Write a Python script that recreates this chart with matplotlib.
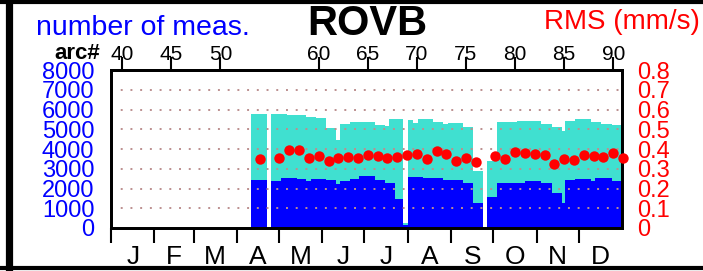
import matplotlib
matplotlib.use('Agg')
import matplotlib.pyplot as plt
from matplotlib.lines import Line2D
import numpy as np

plt.rcParams['font.family'] = ['Liberation Sans', 'DejaVu Sans']

station = 'ROVB'
months = ['J', 'F', 'M', 'A', 'M', 'J', 'J', 'A', 'S', 'O', 'N', 'D']
month_start = [0, 31, 59, 90, 120, 151, 181, 212, 243, 273, 304, 334, 365]
arc_ticks = [40, 45, 50, 60, 65, 70, 75, 80, 85, 90]

# number of measurements, step segments (start day of year)
seg_day = [100.0, 111.4, 114.5, 121.4, 125.9, 132.6, 139.3, 142.6, 146.4, 153.6,
           160.5, 163.6, 170.7, 177.1, 188.6, 195.7, 198.6, 202.9, 208.8, 211.9,
           215.7, 219.5, 223.1, 230.2, 237.4, 240.9, 251.6, 258.8, 265.9, 268.6,
           275.5, 289.8, 295.7, 307.1, 314.8, 321.8, 324.3, 331.4, 342.9, 345.7,
           350.0, 357.6]
seg_total = [5770, 0, 5770, 5750, 5710, 5710, 5600, 5600, 5545, 5070,
             4480, 5280, 5350, 5350, 5215, 5165, 5500, 5500, 250, 5470,
             5335, 5500, 5500, 5370, 5265, 5300, 5130, 2900, 0, 3390,
             5350, 5400, 5400, 5250, 5130, 4930, 5425, 5535, 5350, 5350,
             5265, 5200]
seg_low = [2430, 0, 2380, 2545, 2545, 2480, 2380, 2495, 2495, 2415,
           2230, 2380, 2465, 2630, 2430, 2260, 2260, 1455, 170, 2565,
           2565, 2565, 2515, 2515, 2430, 2430, 2295, 1280, 0, 1550,
           2295, 2295, 2380, 2260, 1755, 1250, 2430, 2495, 2365, 2515,
           2515, 2400]
year_end = 365

# RMS per arc
arc_no = [54, 56, 57, 58, 59, 60, 61, 62, 63, 64, 65, 66, 67, 68, 69, 70, 71, 72,
          73, 74, 75, 76, 78, 79, 80, 81, 82, 83, 84, 85, 86, 87, 88, 89, 90, 91]
rms = [0.348, 0.353, 0.396, 0.395, 0.356, 0.366, 0.341, 0.356, 0.361, 0.353,
       0.370, 0.365, 0.354, 0.358, 0.368, 0.373, 0.348, 0.391, 0.377, 0.339,
       0.355, 0.335, 0.366, 0.351, 0.386, 0.380, 0.373, 0.370, 0.324, 0.348,
       0.344, 0.372, 0.365, 0.357, 0.378, 0.353]


def arc_to_day(a):
    return 8.07 + (np.asarray(a, dtype=float) - 40) * 7.014


def day_to_arc(d):
    return 40 + (np.asarray(d, dtype=float) - 8.07) / 7.014


fig = plt.figure(figsize=(7.03, 2.71), dpi=100)
ax = fig.add_axes([111 / 703, 43 / 271, 511 / 703, 158 / 271])

# bars as steps
x = seg_day + [year_end]
ax.fill_between(x, 0, seg_total + [seg_total[-1]], step='post',
                color='#40e0d0', lw=0, zorder=1)
ax.fill_between(x, 0, seg_low + [seg_low[-1]], step='post',
                color='#0000ff', lw=0, zorder=1)

# dotted grid
for v in range(1000, 8000, 1000):
    ax.axhline(v, color='#bc8f8f', lw=1.4, ls=(0, (1, 4)), zorder=2)

ax.set_xlim(0, 365)
ax.set_ylim(0, 8000)
ax.set_yticks(range(0, 8001, 1000))
ax.tick_params(axis='y', length=0, pad=12, labelcolor='blue', labelsize=17)

# months along bottom
ax.set_xticks(month_start[:-1])
ax.set_xticklabels([])
ax.tick_params(axis='x', which='major', length=11, width=1.5, direction='out')
mid = [(month_start[i] + month_start[i + 1]) / 2 for i in range(12)]
ax.set_xticks(mid, minor=True)
ax.set_xticklabels(months, minor=True)
ax.tick_params(axis='x', which='minor', length=0, pad=12, labelsize=19)
ax.tick_params(top=False)

for s in ax.spines.values():
    s.set_linewidth(2)

# arc numbers along top
sec = ax.secondary_xaxis('top', functions=(day_to_arc, arc_to_day))
sec.set_xticks(arc_ticks)
sec.tick_params(length=9.5, width=1.5, pad=-5.5, labelsize=15)
sec.spines['top'].set_linewidth(2)

# RMS on right axis
ax2 = ax.twinx()
ax2.plot(arc_to_day(arc_no), rms, 'o', color='red', ms=7.5, mew=0,
         clip_on=False, zorder=3)
ax2.set_ylim(0, 0.8)
ax2.set_yticks(np.arange(0, 0.81, 0.1))
ax2.set_yticklabels(['0'] + ['%.1f' % v for v in np.arange(0.1, 0.81, 0.1)])
ax2.tick_params(axis='y', length=0, pad=11, labelcolor='red', labelsize=17)
for s in ax2.spines.values():
    s.set_linewidth(2)

fig.text(36 / 703, 1 - 35 / 271, 'number of meas.', color='blue', fontsize=20.5,
         ha='left', va='baseline')
fig.text(367 / 703, 1 - 35 / 271, station, color='black', fontsize=30,
         fontweight='bold', ha='center', va='baseline')
fig.text(700 / 703, 1 - 29 / 271, 'RMS (mm/s)', color='red', fontsize=20,
         ha='right', va='baseline')
fig.text(100 / 703, 1 - 59 / 271, 'arc#', color='black', fontsize=16,
         fontweight='bold', ha='right', va='baseline')

# frame round the figure
fig.add_artist(Line2D([8.5 / 703, 8.5 / 703], [0, 1], color='black', lw=5.2,
                      transform=fig.transFigure))
fig.add_artist(Line2D([0, 1], [1 - 2 / 271, 1 - 2 / 271], color='black', lw=3,
                      transform=fig.transFigure))
fig.add_artist(Line2D([0, 1], [1 - 268 / 271, 1 - 268 / 271], color='black', lw=3,
                      transform=fig.transFigure))

fig.savefig('out.png', dpi=100)
